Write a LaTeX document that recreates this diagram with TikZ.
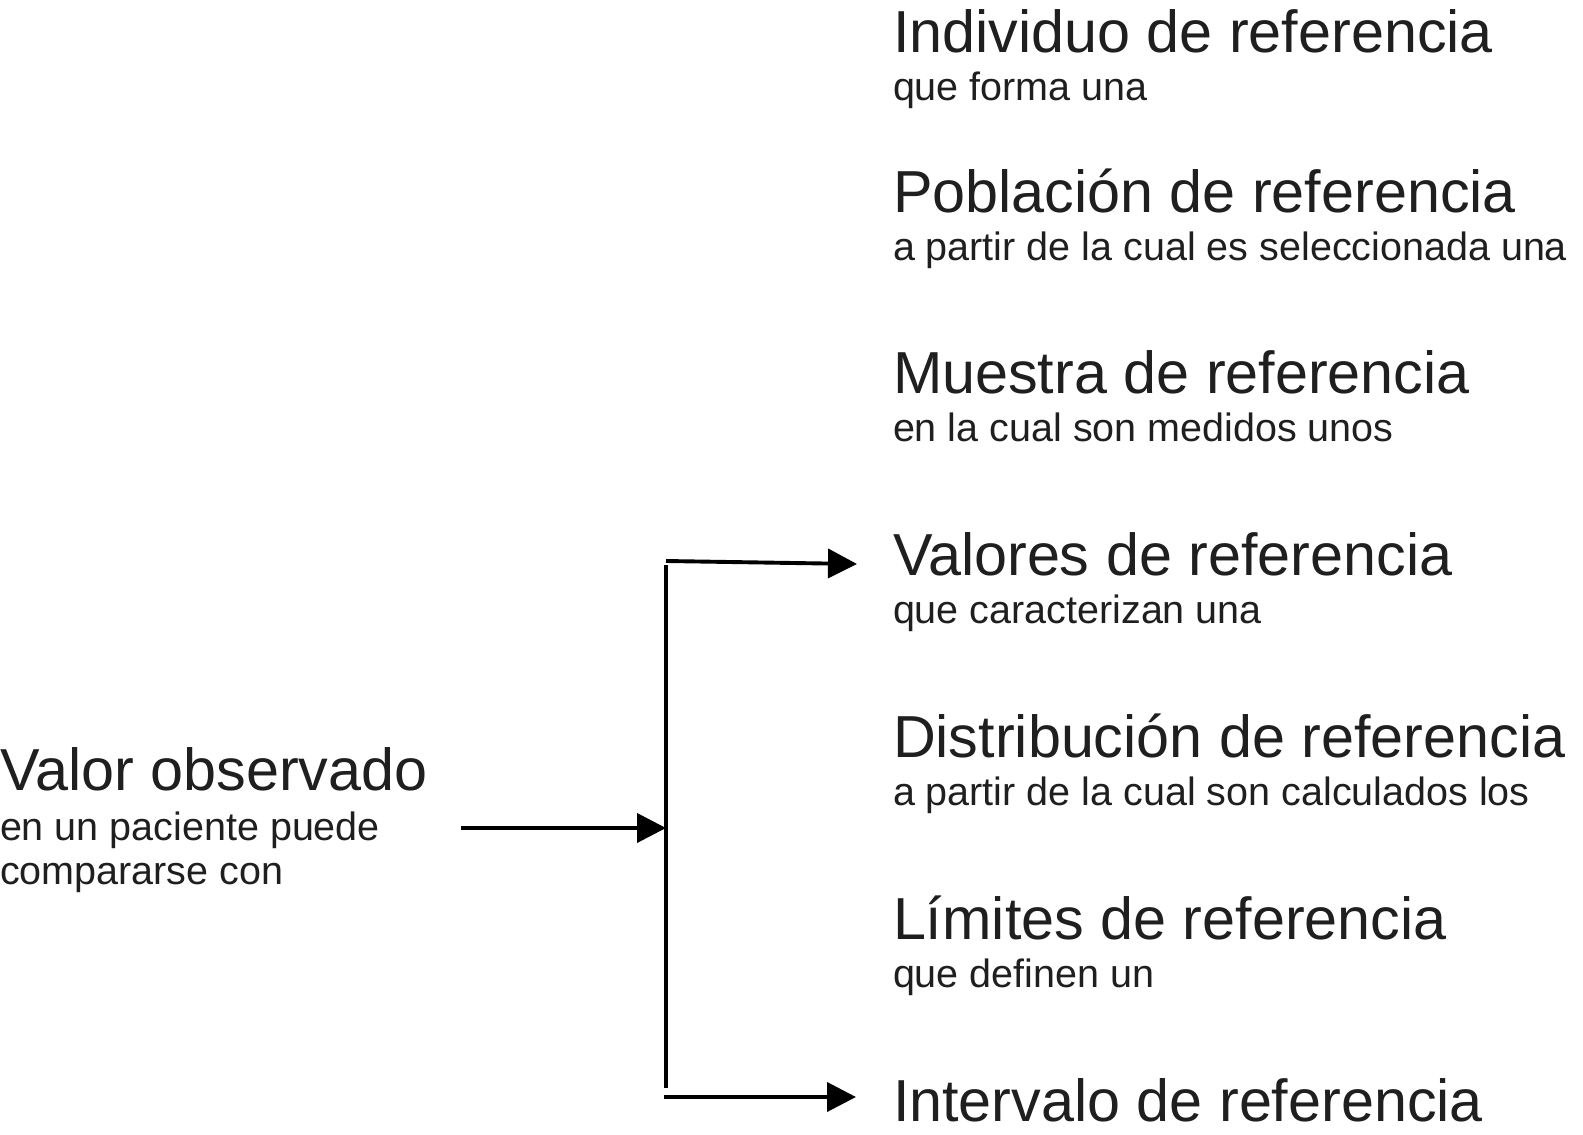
\documentclass[tikz,border=0pt]{standalone}
\usepackage{fontspec}
\setmainfont{Liberation Sans}
\usetikzlibrary{arrows.meta}
\tikzset{
  big/.style={anchor=base west, inner sep=0pt, outer sep=0pt, font=\fontsize{59.3}{70}\selectfont, text=black!88},
  small/.style={anchor=base west, inner sep=0pt, outer sep=0pt, font=\fontsize{39.5}{47}\selectfont, text=black!88},
  conn/.style={line width=3.9pt, black},
  arr/.style={conn, -{Triangle[length=29pt, width=29pt]}}
}
\begin{document}
\begin{tikzpicture}[x=1pt, y=-1pt]
\useasboundingbox (0,0) rectangle (1583,1135);
% right column
\node[big]   (ind)  at (893,52)   {Individuo de referencia};
\node[small] (indS) at (893,100.5) {que forma una};
\node[big]   (pob)  at (893,212)  {Población de referencia};
\node[small] (pobS) at (893,260)  {a partir de la cual es seleccionada una};
\node[big]   (mue)  at (893,393)  {Muestra de referencia};
\node[small] (mueS) at (893,441)  {en la cual son medidos unos};
\node[big]   (val)  at (893,575)  {Valores de referencia};
\node[small] (valS) at (893,623)  {que caracterizan una};
\node[big]   (dis)  at (893,757)  {Distribución de referencia};
\node[small] (disS) at (893,805)  {a partir de la cual son calculados los};
\node[big]   (lim)  at (893,939)  {Límites de referencia};
\node[small] (limS) at (893,987)  {que definen un};
\node[big]   (int)  at (893,1121) {Intervalo de referencia};
% left block
\node[big]   (obs)  at (0,790)  {Valor observado};
\node[small] (obs1) at (0,840.5) {en un paciente puede};
\node[small] (obs2) at (0,884.5) {compararse con};
% connectors
\coordinate (start) at (461,828);
\coordinate (jmid)  at (666,828);
\coordinate (jtop)  at (666,565);
\coordinate (jbot)  at (666,1088);
\coordinate (atop)  at (666,561);
\coordinate (ttop)  at (857,564);
\coordinate (abot)  at (664,1097);
\coordinate (tbot)  at (856,1097);
\draw[arr] (start) -- (jmid);
\draw[conn] (jtop) -- (jbot);
\draw[arr] (atop) -- (ttop);
\draw[arr] (abot) -- (tbot);
\end{tikzpicture}
\end{document}
